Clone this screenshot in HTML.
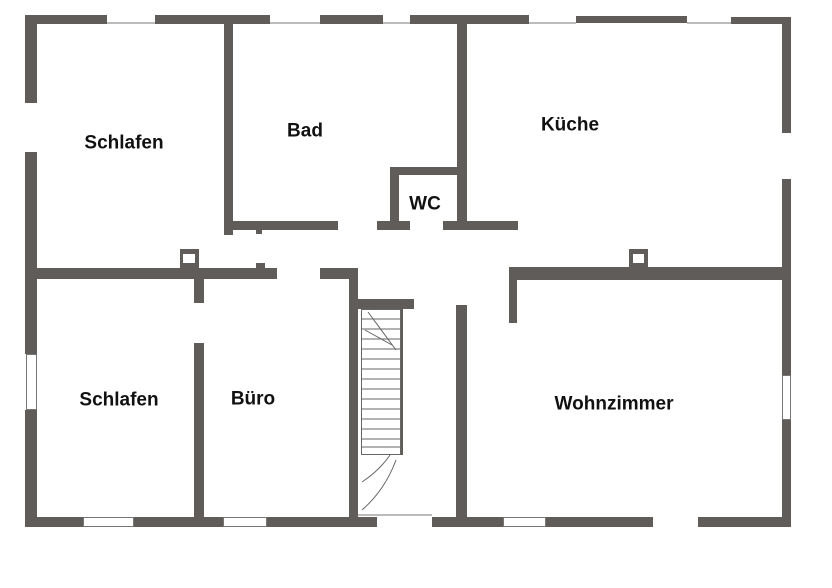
<!DOCTYPE html>
<html><head><meta charset="utf-8"><style>
html,body{margin:0;padding:0;background:#fff;}
svg{display:block}
text{font-family:"Liberation Sans",sans-serif;font-weight:bold;font-size:19px;fill:#111;text-anchor:middle;dominant-baseline:central}
</style></head><body>
<svg width="832" height="588" viewBox="0 0 832 588" xmlns="http://www.w3.org/2000/svg">
<rect width="832" height="588" fill="#fff"/>
<g fill="#5f5c59">
<!-- top wall -->
<rect x="25" y="15" width="82" height="9"/>
<rect x="155" y="15" width="115" height="9"/>
<rect x="320" y="15" width="63" height="9"/>
<rect x="410" y="15" width="119" height="9"/>
<rect x="576" y="16" width="111" height="7"/>
<rect x="731" y="17" width="60" height="7"/>
<!-- left wall -->
<rect x="25" y="15" width="12" height="88"/>
<rect x="25" y="152" width="12" height="202"/>
<rect x="25" y="410" width="12" height="117"/>
<!-- right wall -->
<rect x="782" y="17" width="9" height="116"/>
<rect x="782" y="179" width="9" height="196"/>
<rect x="782" y="420" width="9" height="107"/>
<!-- bottom wall -->
<rect x="25" y="517" width="58" height="10"/>
<rect x="134" y="517" width="89" height="10"/>
<rect x="267" y="517" width="110" height="10"/>
<rect x="432" y="517" width="71" height="10"/>
<rect x="546" y="517" width="107" height="10"/>
<rect x="698" y="517" width="93" height="10"/>
<!-- Bad -->
<rect x="224" y="23" width="9" height="212"/>
<rect x="233" y="221" width="105" height="9"/>
<rect x="256" y="229" width="6" height="5"/>
<!-- WC -->
<rect x="390" y="167" width="69" height="8"/>
<rect x="390" y="167" width="9" height="55"/>
<rect x="377" y="221" width="33" height="9"/>
<rect x="457" y="23" width="10" height="206"/>
<rect x="443" y="221" width="75" height="9"/>
<!-- middle left -->
<rect x="37" y="268" width="240" height="11"/>
<rect x="180" y="249" width="19" height="19"/>
<rect x="256" y="263" width="9" height="6"/>
<rect x="194" y="279" width="10" height="24"/>
<rect x="194" y="343" width="10" height="174"/>
<rect x="320" y="268" width="38" height="11"/>
<rect x="349" y="268" width="9" height="249"/>
<!-- stair -->
<rect x="358" y="299" width="56" height="10"/>
<rect x="400" y="309" width="3" height="146"/>
<!-- middle right -->
<rect x="509" y="267" width="273" height="13"/>
<rect x="629" y="249" width="19" height="18"/>
<rect x="509" y="267" width="8" height="56"/>
<rect x="456" y="305" width="11" height="222"/>
</g>
<g fill="#fff">
<rect x="183" y="254" width="12" height="9"/>
<rect x="633" y="254" width="11" height="9"/>
</g>
<!-- window lines -->
<g stroke="#777" stroke-width="1" fill="none">
<line x1="107" y1="23" x2="155" y2="23"/>
<line x1="270" y1="23" x2="320" y2="23"/>
<line x1="383" y1="23" x2="410" y2="23"/>
<line x1="529" y1="23" x2="576" y2="23"/>
<line x1="687" y1="23" x2="731" y2="23"/>
<rect x="26.5" y="354.5" width="10" height="55"/>
<rect x="782.5" y="375.5" width="8" height="44"/>
<rect x="83.5" y="517.5" width="50" height="9"/>
<rect x="223.5" y="517.5" width="43" height="9"/>
<rect x="503.5" y="517.5" width="42" height="9"/>
<line x1="358" y1="515" x2="432" y2="515"/>
</g>
<g stroke="#666" stroke-width="1" fill="none">
<rect x="361.5" y="309.5" width="39" height="145"/>
<line x1="362" y1="319" x2="400" y2="319"/>
<line x1="362" y1="329" x2="400" y2="329"/>
<line x1="362" y1="339" x2="400" y2="339"/>
<line x1="362" y1="349" x2="400" y2="349"/>
<line x1="362" y1="359" x2="400" y2="359"/>
<line x1="362" y1="369" x2="400" y2="369"/>
<line x1="362" y1="379" x2="400" y2="379"/>
<line x1="362" y1="389" x2="400" y2="389"/>
<line x1="362" y1="399" x2="400" y2="399"/>
<line x1="362" y1="409" x2="400" y2="409"/>
<line x1="362" y1="419" x2="400" y2="419"/>
<line x1="362" y1="429" x2="400" y2="429"/>
<line x1="362" y1="439" x2="400" y2="439"/>
<line x1="362" y1="447" x2="400" y2="447"/>
<path d="M368 312 L396 350 M365 330 L392 345 M390 455 Q380 470 362 482 M396 460 Q385 490 362 510"/>
</g>
<text x="124" y="143">Schlafen</text>
<text x="305" y="131">Bad</text>
<text x="425" y="204">WC</text>
<text x="570" y="125">Küche</text>
<text x="119" y="400">Schlafen</text>
<text x="253" y="399">Büro</text>
<text x="614" y="404">Wohnzimmer</text>
</svg>
</body></html>
